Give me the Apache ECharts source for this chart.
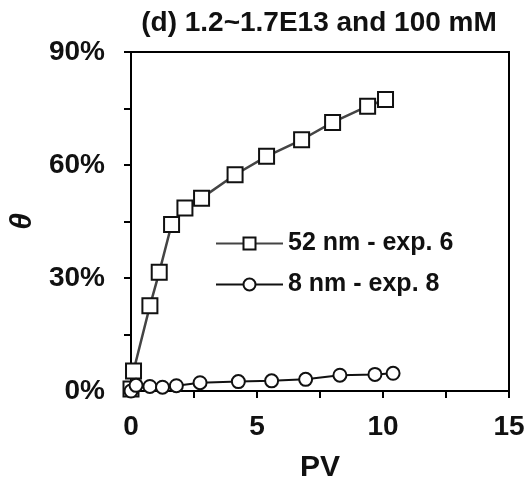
<!DOCTYPE html>
<html><head><meta charset="utf-8">
<script src="https://cdn.jsdelivr.net/npm/echarts@6/dist/echarts.min.js"></script>
<style>html,body{margin:0;padding:0;background:#fff}#c{width:530px;height:480px}</style>
</head><body><div id="c"></div>
<script>
const titleText = '(d) 1.2~1.7E13 and 100 mM';
const xName = 'PV';
const yName = 'θ';
const seriesNames = ['52 nm - exp. 6', '8 nm - exp. 8'];
const pv52 = [0, 0.1, 0.75, 1.12, 1.61, 2.14, 2.8, 4.13, 5.38, 6.77, 8.0, 9.39, 10.1];
const theta52 = [0.5, 5.3, 22.6, 31.5, 44.2, 48.6, 51.2, 57.4, 62.3, 66.7, 71.3, 75.6, 77.4];
const pv8 = [0, 0.2, 0.75, 1.25, 1.8, 2.74, 4.26, 5.58, 6.93, 8.29, 9.68, 10.4];
const theta8 = [0, 1.5, 1.2, 1.0, 1.4, 2.2, 2.5, 2.7, 3.1, 4.2, 4.4, 4.7];

const font = 'Liberation Sans, Arial, sans-serif';
const chart = echarts.init(document.getElementById('c'));
const pairs = (xs, ys) => xs.map((x, i) => [x, ys[i]]);
chart.setOption({
  animation: false,
  title: { text: titleText, left: 314, top: 4, textAlign: 'center',
    textStyle: { fontFamily: font, fontSize: 28, fontWeight: 'bold', color: '#111' } },
  grid: { left: 131, right: 21, top: 52, bottom: 89, show: true, borderColor: '#000', borderWidth: 2,
    outerBoundsMode: 'none', containLabel: false },
  legend: {
    orient: 'vertical', left: 210, top: 226, itemWidth: 67, itemHeight: 15, itemGap: 16,
    textStyle: { fontFamily: font, fontSize: 25, fontWeight: 'bold', color: '#111' },
    data: seriesNames
  },
  xAxis: {
    type: 'value', min: 0, max: 15, interval: 2.5,
    name: xName, nameLocation: 'middle', nameGap: 62,
    nameTextStyle: { fontFamily: font, fontSize: 30, fontWeight: 'bold', color: '#111' },
    axisLine: { lineStyle: { color: '#000', width: 2 } },
    axisTick: { show: true, length: 7, lineStyle: { color: '#000', width: 2 } },
    axisLabel: { fontFamily: font, fontSize: 28, fontWeight: 'bold', color: '#111', margin: 22,
      formatter: v => (v % 5 === 0 ? String(v) : '') },
    splitLine: { show: false }
  },
  yAxis: {
    type: 'value', min: 0, max: 90, interval: 15,
    name: yName, nameLocation: 'middle', nameGap: 93, nameRotate: 90,
    nameTextStyle: { fontFamily: font, fontSize: 30, fontWeight: 'bold', fontStyle: 'italic', color: '#111' },
    axisLine: { lineStyle: { color: '#000', width: 2 } },
    axisTick: { show: true, length: 7, lineStyle: { color: '#000', width: 2 } },
    axisLabel: { fontFamily: font, fontSize: 28, fontWeight: 'bold', color: '#111', margin: 26,
      formatter: v => (v % 30 === 0 ? v + '%' : '') },
    splitLine: { show: false }
  },
  series: [
    { name: seriesNames[0], type: 'line', data: pairs(pv52, theta52),
      symbol: 'rect', symbolSize: 15,
      lineStyle: { color: '#444', width: 2.5 },
      itemStyle: { color: '#fff', borderColor: '#111', borderWidth: 2 } },
    { name: seriesNames[1], type: 'line', data: pairs(pv8, theta8),
      symbol: 'circle', symbolSize: 13,
      lineStyle: { color: '#111', width: 2 },
      itemStyle: { color: '#fff', borderColor: '#111', borderWidth: 2 } }
  ]
});
</script></body></html>
